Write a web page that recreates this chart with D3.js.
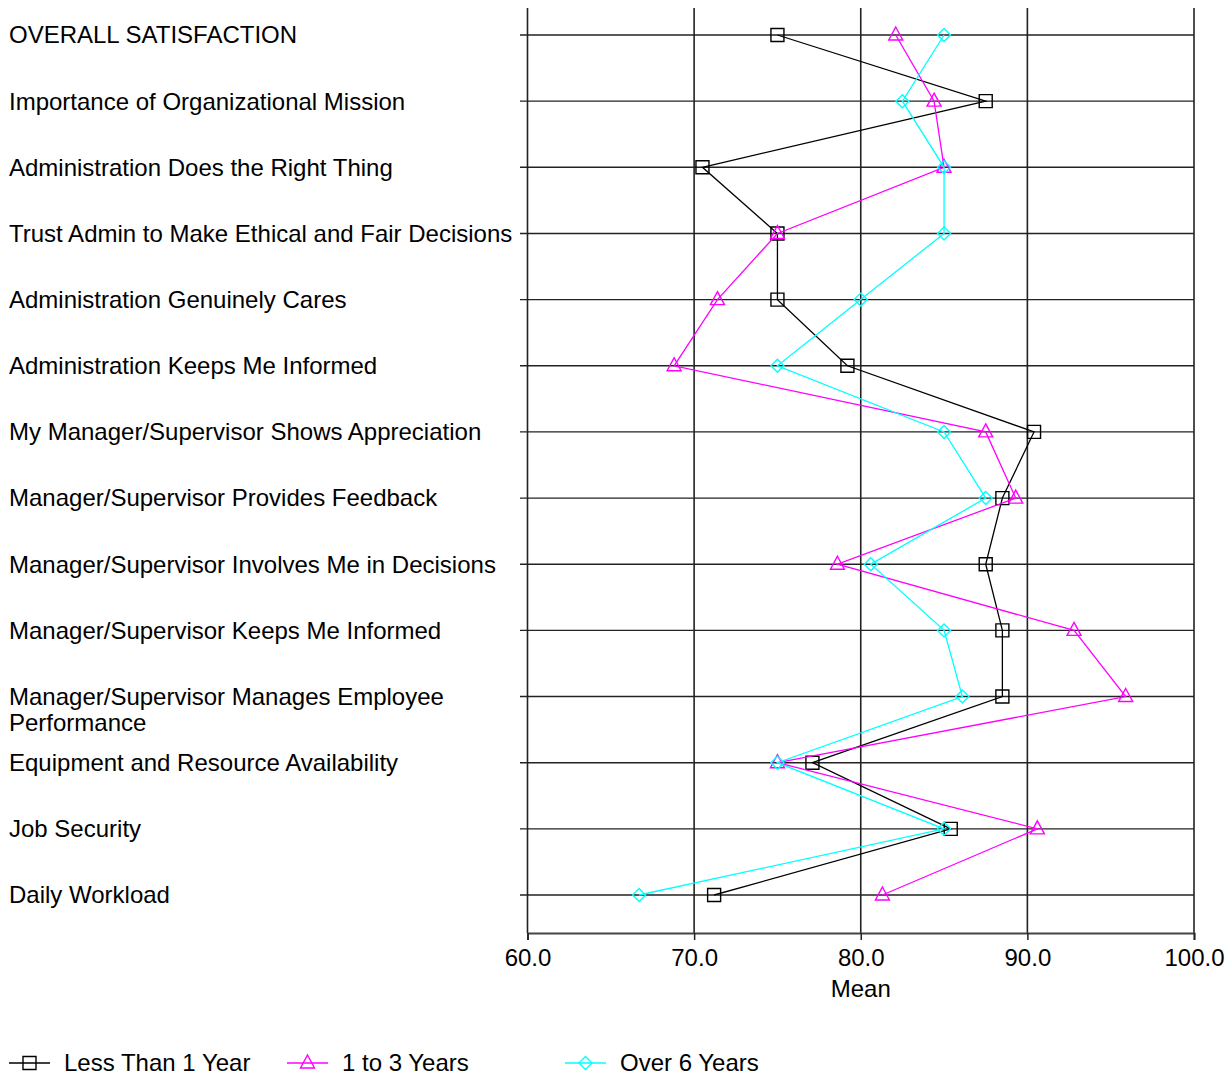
<!DOCTYPE html>
<html><head><meta charset="utf-8">
<script src="https://cdn.jsdelivr.net/npm/d3@7/dist/d3.min.js"></script>
<style>body{margin:0;background:#fff}text{font-family:"Liberation Sans",Arial,sans-serif;fill:#000}</style>
</head><body><svg id="c" width="1229" height="1078"></svg>
<script>
const categories = [
  "OVERALL SATISFACTION",
  "Importance of Organizational Mission",
  "Administration Does the Right Thing",
  "Trust Admin to Make Ethical and Fair Decisions",
  "Administration Genuinely Cares",
  "Administration Keeps Me Informed",
  "My Manager/Supervisor Shows Appreciation",
  "Manager/Supervisor Provides Feedback",
  "Manager/Supervisor Involves Me in Decisions",
  "Manager/Supervisor Keeps Me Informed",
  "Manager/Supervisor Manages Employee|Performance",
  "Equipment and Resource Availability",
  "Job Security",
  "Daily Workload"
];
const lessThan1 = [75.0, 87.5, 70.5, 75.0, 75.0, 79.2, 90.4, 88.5, 87.5, 88.5, 88.5, 77.1, 85.4, 71.2];
const oneTo3   = [82.1, 84.4, 85.0, 75.0, 71.4, 68.8, 87.5, 89.3, 78.6, 92.8, 95.9, 75.0, 90.6, 81.3];
const over6    = [85.0, 82.5, 85.0, 85.0, 80.0, 75.0, 85.0, 87.5, 80.6, 85.0, 86.1, 75.0, 85.0, 66.7];
const xTicks = [60, 70, 80, 90, 100];
const seriesNames = ["Less Than 1 Year", "1 to 3 Years", "Over 6 Years"];

const series = [
  {name: seriesNames[0], values: lessThan1, color: "#000000", symbol: "sq"},
  {name: seriesNames[1], values: oneTo3, color: "#ff00ff", symbol: "tri"},
  {name: seriesNames[2], values: over6, color: "#00ffff", symbol: "dia"}
];

const svg = d3.select("#c");
const x = d3.scaleLinear().domain([60, 100]).range([527.5, 1194]);
const y = d3.scalePoint().domain(d3.range(categories.length)).range([35, 895]);
const plotTop = 8, plotBottom = 933;
const font = 24;

function markerPath(sym){
  if (sym === "tri") return "M0,-8L7,5L-7,5Z";
  if (sym === "dia") return "M0,-6.5L6.5,0L0,6.5L-6.5,0Z";
  return "M-6.5,-6.5H6.5V6.5H-6.5Z";
}

// horizontal grid lines
svg.append("g").selectAll("line").data(categories).join("line")
  .attr("x1", 520).attr("x2", x(100))
  .attr("y1", (d,i)=>y(i)).attr("y2", (d,i)=>y(i))
  .attr("stroke", "#222").attr("stroke-width", 1.4);

// vertical grid lines
svg.append("g").selectAll("line").data(xTicks).join("line")
  .attr("x1", d=>x(d)).attr("x2", d=>x(d))
  .attr("y1", plotTop).attr("y2", plotBottom)
  .attr("stroke", "#222").attr("stroke-width", 1.6);

// bottom axis
const ax = svg.append("g").attr("transform", `translate(0,${plotBottom})`)
  .call(d3.axisBottom(x).tickValues(xTicks).tickFormat(d3.format(".1f")).tickSize(7).tickPadding(9));
ax.select(".domain").attr("stroke", "#444").attr("stroke-width", 2);
ax.selectAll(".tick line").attr("stroke", "#222").attr("stroke-width", 1.5);
ax.selectAll(".tick text").attr("font-size", font).attr("font-family", '"Liberation Sans",Arial,sans-serif').attr("fill", "#000");
svg.append("text").attr("x", x(80)).attr("y", 997).attr("text-anchor", "middle").attr("font-size", font).text("Mean");

// category labels
svg.append("g").selectAll("text").data(categories).join("text")
  .attr("x", 9).attr("y", (d,i)=>y(i)).attr("font-size", font)
  .each(function(d){
    const parts = d.split("|");
    const t = d3.select(this);
    parts.forEach((p, k) => {
      t.append("tspan").attr("x", 9).attr("dy", k === 0 ? "0.35em" : "1.1em").text(p);
    });
  });

// series
const line = d3.line().x(d=>x(d.v)).y(d=>y(d.i));
series.forEach(s => {
  const pts = s.values.map((v,i)=>({v,i}));
  svg.append("path").datum(pts).attr("d", line).attr("fill", "none")
    .attr("stroke", s.color).attr("stroke-width", 1.3);
  svg.append("g").selectAll("path").data(pts).join("path")
    .attr("transform", d=>`translate(${x(d.v)},${y(d.i)})`)
    .attr("d", markerPath(s.symbol)).attr("fill", "none")
    .attr("stroke", s.color).attr("stroke-width", 1.4);
});

// legend
const legX = [9, 287, 565];
const legG = svg.append("g");
series.forEach((s, k) => {
  const g = legG.append("g").attr("transform", `translate(${legX[k]},1063)`);
  g.append("line").attr("x1", 0).attr("x2", 41).attr("y1", 0).attr("y2", 0)
    .attr("stroke", s.color).attr("stroke-width", 1.3);
  g.append("path").attr("transform", "translate(20.5,0)").attr("d", markerPath(s.symbol))
    .attr("fill", "none").attr("stroke", s.color).attr("stroke-width", 1.4);
  g.append("text").attr("x", 55).attr("y", 0).attr("dy", "0.35em").attr("font-size", font).text(s.name);
});
</script></body></html>
